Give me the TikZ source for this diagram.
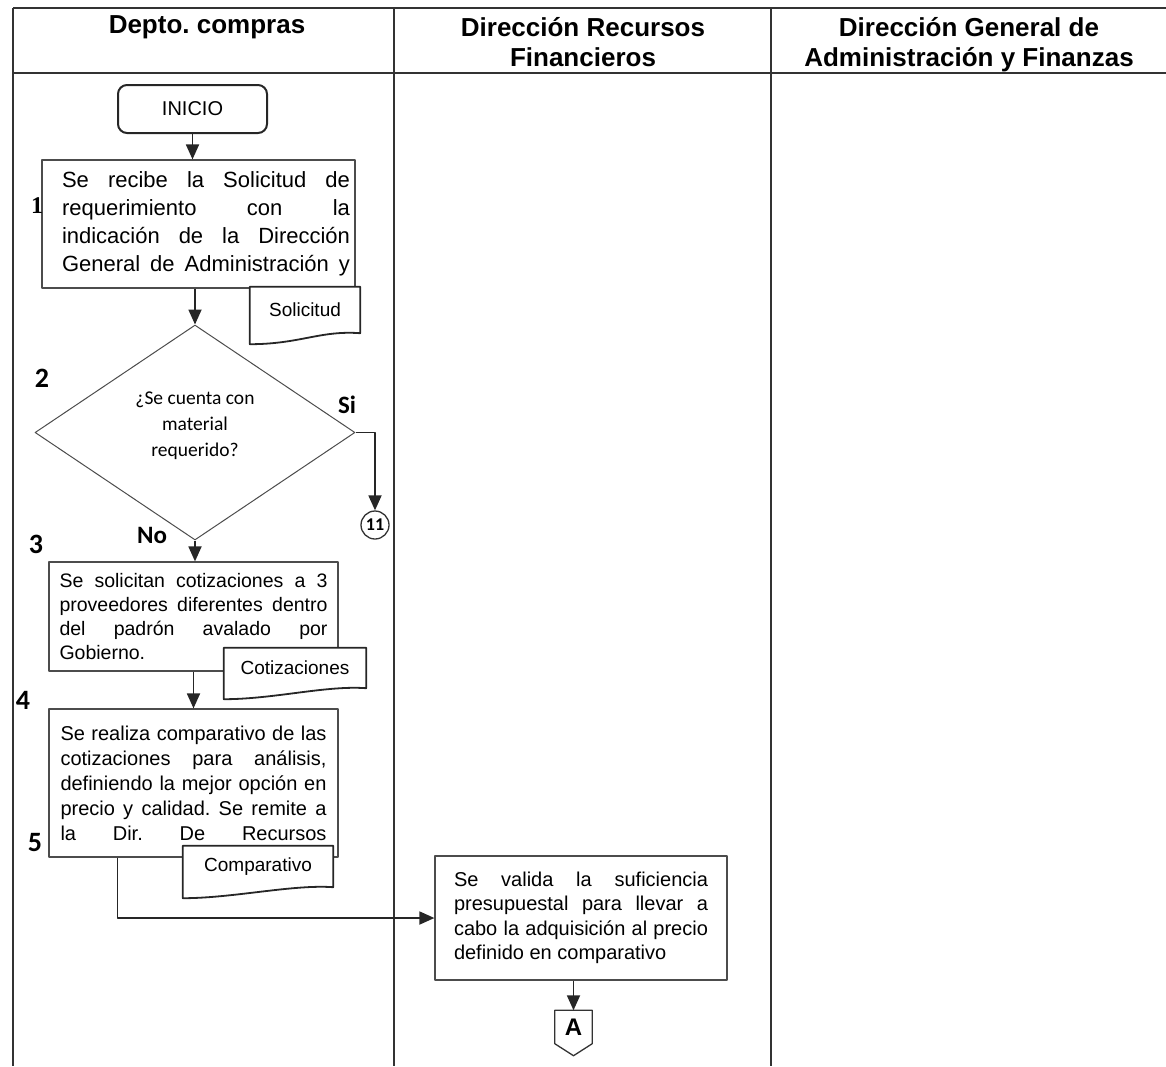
\documentclass[tikz,border=0pt]{standalone}
\usepackage{fontspec}
\setmainfont{Liberation Sans}
\newfontfamily\calibri{Carlito}
\newfontfamily\romana{Liberation Serif}
\usetikzlibrary{arrows.meta,shapes.geometric,positioning}
\setlength{\parindent}{0pt}
\frenchspacing
\tolerance=9999 \hbadness=10000 \hfuzz=4pt
\newcommand{\tam}[2]{\fontsize{#1}{#2}\selectfont}
% renglon justificado a todo el ancho
\newcommand{\llena}[1]{\makebox[\linewidth][s]{#1}}
% documento: nombre, posicion, ancho, alto, texto
\newcommand{\hoja}[5]{%
  \node[minimum width=#3,minimum height=#4,inner sep=0pt] (#1) at (#2) {};
  \filldraw[borde hoja] (#1.north west) -- (#1.north east) -- (#1.south east)
    .. controls +(-40,-3) and +(50,0) .. ([yshift=-11pt]#1.south west) -- cycle;
  \node[font=\tam{19}{20}] (#1 texto) at (#1) {#5};}

\begin{document}
\begin{tikzpicture}[x=1pt,y=-1pt,line join=round,
    linea/.style={line width=1.3pt,draw=black!80},
    flecha/.style={line width=1.8pt,draw=black!85,-{Triangle[length=15pt,width=13pt]}},
    caja/.style={draw=black!70,line width=1.2pt,fill=white,align=justify,inner sep=0pt},
    borde hoja/.style={line width=1.8pt,draw=black!85,fill=white},
    carril/.style={font=\bfseries\tam{26}{30},align=center,anchor=north},
    paso/.style={font=\calibri\bfseries\tam{28}{28}}]
\useasboundingbox (0,0) rectangle (1166,1066);
% carriles
\draw[linea] (13,8) -- (1166,8) (13,73) -- (1166,73);
\foreach \x in {13,394,771}
  \draw[linea] (\x,8) -- (\x,1066);
\node[carril] (carril1) at (207,12.5) {Depto. compras};
\node[carril] (carril2) at (583,14) {Dirección Recursos\\Financieros};
\node[carril] (carril3) at (969,14) {Dirección General de\\Administración y Finanzas};

\node[draw=black!85,line width=2pt,rounded corners=9pt,minimum width=149pt,minimum height=48pt,font=\tam{20}{20}] (inicio) at (192.5,109) {INICIO};
\node[caja,align=center,minimum width=313pt,minimum height=128pt,font=\tam{22}{28}] (paso1) at (198.5,224)
  {\hspace{15pt}\parbox{288pt}{Se recibe la Solicitud de\linebreak requerimiento con la\linebreak indicación de la Dirección\linebreak \llena{General de Administración y}}};
\node[draw=black!70,line width=1pt,diamond,minimum width=320pt,minimum height=215pt,inner sep=0pt,align=center,text depth=17pt,font=\calibri\tam{19.5}{26}] (decision) at (195,432.5)
  {¿Se cuenta con\\material\\requerido?};
\node[circle,draw=black!80,line width=1.3pt,minimum size=28pt,inner sep=0pt,font=\calibri\bfseries\tam{18}{18}] (c11) at (375,525) {11};
\node[caja,text width=268pt,minimum width=289pt,minimum height=109pt,font=\tam{19.5}{24}] (paso3) at (193.5,616.5)
  {Se solicitan cotizaciones a 3\linebreak proveedores diferentes dentro\linebreak del padrón avalado por\linebreak Gobierno.};
\node[caja,text width=266pt,minimum width=289pt,minimum height=148pt,font=\tam{20}{25}] (paso4) at (193.5,783)
  {Se realiza comparativo de las\linebreak cotizaciones para análisis,\linebreak definiendo la mejor opción en\linebreak precio y calidad. Se remite a\linebreak \llena{la Dir. De Recursos}};
\node[caja,text width=254pt,minimum width=292pt,minimum height=124pt,font=\tam{20}{24.5}] (paso6) at (581,918)
  {Se valida la suficiencia\linebreak presupuestal para llevar a\linebreak cabo la adquisición al precio\linebreak definido en comparativo};
\node[minimum width=37pt,minimum height=33pt,inner sep=0pt,font=\bfseries\tam{24}{24}] (conA) at (573.5,1027) {A};
\draw[linea] (conA.north west) -- (conA.north east) -- (conA.south east) -- ([yshift=-12pt]conA.south) -- (conA.south west) -- cycle;

% numeros y respuestas
\node[font=\romana\bfseries\tam{24}{24}] (num1) at (37,206) {1};
\foreach \n/\p in {2/{42,378},3/{36,544},4/{23,700},5/{35,843}}
  \node[paso] (num\n) at (\p) {\n};
\node[font=\calibri\bfseries\tam{25}{25}] (no) at (152,535) {No};
\node[font=\calibri\bfseries\tam{25}{25}] (si) at (347,405) {Si};

% conectores
\draw[flecha] (inicio.south) -- (inicio.south |- paso1.north);
\draw[flecha] (paso1.south -| decision.north) -- (decision.north);
\draw[flecha] (decision.south) -- (decision.south |- paso3.north);
\draw[flecha] (decision.east) -| (c11.north);
\draw[flecha] (paso3.south -| paso4.north) -- (paso4.north);
\draw[flecha] ([xshift=69pt]paso4.south west) |- (paso6.west);
\draw[flecha] (paso6.south -| conA.north) -- (conA.north);

% documentos
\hoja{soli}{305,310}{110pt}{46pt}{Solicitud}
\hoja{coti}{295,668}{142pt}{40pt}{Cotizaciones}
\hoja{compa}{258,866.5}{150pt}{41pt}{Comparativo}
\end{tikzpicture}
\end{document}
